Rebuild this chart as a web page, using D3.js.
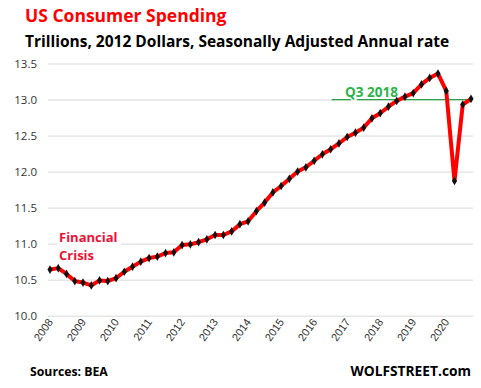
<!DOCTYPE html>
<html>
<head>
<meta charset="utf-8">
<script src="https://cdn.jsdelivr.net/npm/d3@7"></script>
<style>
  body { margin: 0; background: #fff; }
  svg { display: block; font-family: "Open Sans", "DejaVu Sans", sans-serif; }
</style>
</head>
<body>
<div id="chart"></div>
<script>
const years = [2008, 2009, 2010, 2011, 2012, 2013, 2014, 2015, 2016, 2017, 2018, 2019, 2020];
const quarters = ["Q1", "Q2", "Q3", "Q4"];
const spending = [
  10.64, 10.66, 10.58, 10.48,
  10.46, 10.42, 10.49, 10.48,
  10.52, 10.61, 10.68, 10.75,
  10.80, 10.82, 10.87, 10.88,
  10.98, 10.99, 11.02, 11.06,
  11.12, 11.12, 11.17, 11.27,
  11.31, 11.45, 11.57, 11.71,
  11.80, 11.90, 12.00, 12.06,
  12.15, 12.24, 12.31, 12.39,
  12.48, 12.54, 12.61, 12.74,
  12.81, 12.90, 12.98, 13.04,
  13.09, 13.21, 13.30, 13.36,
  13.12, 11.87, 12.93, 13.01
];
const yTicks = [10.0, 10.5, 11.0, 11.5, 12.0, 12.5, 13.0, 13.5];
const q3Level = 13.0;        // level of the "Q3 2018" reference line
const q3LineFrom = "2016 Q3"; // where the green line starts

const categories = years.flatMap(y => quarters.map(q => `${y} ${q}`));
const data = categories.map((c, i) => ({ cat: c, value: spending[i] }));

const w = 481;
const h = 388;

const svg = d3.select("#chart")
  .append("svg")
  .attr("width", w)
  .attr("height", h);

// Scales
const xScale = d3.scalePoint()
  .domain(categories)
  .range([50, 471]);

const yScale = d3.scaleLinear()
  .domain([10, 13.5])
  .range([315.7, 63.5]);

// shrink text until it fits a given width
function fit(sel, width) {
  let size = parseFloat(sel.attr("font-size"));
  while (sel.node().getComputedTextLength() > width && size > 6) {
    size -= 0.25;
    sel.attr("font-size", size);
  }
}

// Gridlines + y labels
const yAxis = d3.axisLeft(yScale)
  .tickValues(yTicks)
  .tickFormat(d3.format(".1f"))
  .tickSize(-(473 - 48))
  .tickPadding(11);

const yG = svg.append("g")
  .attr("transform", "translate(48,0)")
  .call(yAxis);
yG.select(".domain").remove();
yG.selectAll(".tick line").attr("stroke", "#d9d9d9");
yG.selectAll(".tick text")
  .attr("fill", "#333")
  .attr("font-size", 11.5)
  .attr("font-family", "'Open Sans', sans-serif");

// x labels (years at Q1)
const xAxis = d3.axisBottom(xScale)
  .tickValues(years.map(y => `${y} Q1`))
  .tickFormat(d => d.slice(0, 4))
  .tickSize(0);

const xG = svg.append("g")
  .attr("transform", "translate(0,318)")
  .call(xAxis);
xG.select(".domain").remove();
xG.selectAll(".tick text")
  .attr("fill", "#333")
  .attr("font-size", 11)
  .attr("text-anchor", "end")
  .attr("dx", 0)
  .attr("dy", 0)
  .attr("y", 0)
  .attr("transform", "translate(3,4) rotate(-55)");

// Q3 2018 reference line
svg.append("line")
  .attr("x1", xScale(q3LineFrom) + 1)
  .attr("x2", 473)
  .attr("y1", yScale(q3Level))
  .attr("y2", yScale(q3Level))
  .attr("stroke", "#2e9e48")
  .attr("stroke-width", 1.2);

const q3Label = svg.append("text")
  .attr("x", 345)
  .attr("y", 97)
  .attr("font-size", 13.5)
  .attr("font-weight", "bold")
  .attr("fill", "#2db34a")
  .attr("stroke", "#fff")
  .attr("stroke-width", 2.5)
  .attr("paint-order", "stroke")
  .text("Q3 2018");
fit(q3Label, 55);

// Financial Crisis annotation, with white box behind
svg.append("rect")
  .attr("x", 57)
  .attr("y", 229)
  .attr("width", 64)
  .attr("height", 33)
  .attr("fill", "#fff");

const fc1 = svg.append("text")
  .attr("x", 59)
  .attr("y", 241.5)
  .attr("font-size", 13.5)
  .attr("font-weight", "bold")
  .attr("fill", "#ee1133")
  .text("Financial");
fit(fc1, 59);
const fc2 = svg.append("text")
  .attr("x", 59)
  .attr("y", 260)
  .attr("font-size", fc1.attr("font-size"))
  .attr("font-weight", "bold")
  .attr("fill", "#ee1133")
  .text("Crisis");

// Line
const line = d3.line()
  .x(d => xScale(d.cat))
  .y(d => yScale(d.value));

svg.append("path")
  .datum(data)
  .attr("fill", "none")
  .attr("stroke", "#ff0000")
  .attr("stroke-width", 4)
  .attr("stroke-linejoin", "round")
  .attr("d", line);

// Markers
svg.selectAll(".marker")
  .data(data)
  .enter()
  .append("path")
  .attr("class", "marker")
  .attr("transform", d => `translate(${xScale(d.cat)},${yScale(d.value)})`)
  .attr("d", d3.symbol().type(d3.symbolDiamond).size(22))
  .attr("fill", "#111");

// Titles
const title = svg.append("text")
  .attr("x", 25)
  .attr("y", 22)
  .attr("font-size", 18)
  .attr("font-weight", "bold")
  .attr("fill", "#ff0000")
  .text("US Consumer Spending");
fit(title, 204);

const subtitle = svg.append("text")
  .attr("x", 25)
  .attr("y", 47)
  .attr("font-size", 16)
  .attr("font-weight", "bold")
  .attr("fill", "#000")
  .text("Trillions, 2012 Dollars, Seasonally Adjusted Annual rate");
fit(subtitle, 428);

// Footer
const src = svg.append("text")
  .attr("x", 30)
  .attr("y", 376)
  .attr("font-size", 13)
  .attr("font-weight", "bold")
  .attr("fill", "#000")
  .text("Sources: BEA");
fit(src, 78);

const brand = svg.append("text")
  .attr("x", 471)
  .attr("y", 376)
  .attr("text-anchor", "end")
  .attr("font-size", 14)
  .attr("font-weight", "bold")
  .attr("fill", "#000")
  .text("WOLFSTREET.com");
fit(brand, 121);
</script>
</body>
</html>
